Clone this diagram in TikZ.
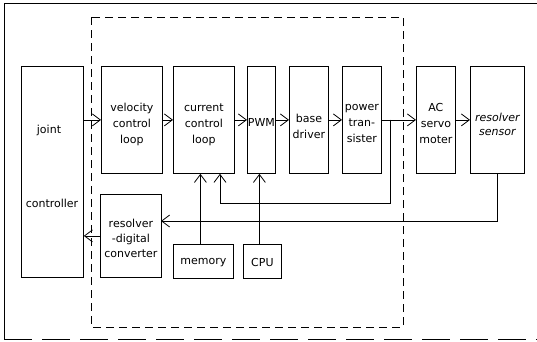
\documentclass[tikz,border=0pt]{standalone}
\usepackage{fontspec}
\setmainfont{DejaVu Sans}
\usetikzlibrary{arrows.meta}
\tikzset{
  blk/.style={draw, line width=0.8pt, inner sep=0pt, anchor=north west},
  txt/.style={inner sep=0pt, align=center, font=\fontsize{11}{16}\selectfont},
  arr/.style={line width=0.8pt, -{Straight Barb[length=8pt,width=12pt,line width=0.8pt]}},
  dashbox/.style={line width=0.9pt, dash pattern=on 8pt off 5pt},
}
\begin{document}
\begin{tikzpicture}[x=1pt,y=-1pt]
\useasboundingbox (0,0) rectangle (537,341);
% outer frame
\draw[line width=0.8pt] (537,3) -- (4,3) -- (4,339);
\draw[line width=0.8pt, dash pattern=on 28pt off 10pt] (4,339) -- (537,339);
% dashed enclosure
\draw[dashbox] (91,17) rectangle (403,327);
% blocks
\node[blk, minimum width=62pt, minimum height=211pt] (joint) at (21,66) {};
\node[blk, minimum width=61pt, minimum height=107pt] (vel) at (101,66) {};
\node[blk, minimum width=61pt, minimum height=107pt] (cur) at (173,66) {};
\node[blk, minimum width=28pt, minimum height=107pt] (pwm) at (247,66) {};
\node[blk, minimum width=39pt, minimum height=107pt] (base) at (289,66) {};
\node[blk, minimum width=39pt, minimum height=107pt] (pow) at (342,66) {};
\node[blk, minimum width=39pt, minimum height=107pt] (ac) at (416,66) {};
\node[blk, minimum width=54pt, minimum height=107pt] (rs) at (470,66) {};
\node[blk, minimum width=61pt, minimum height=83pt] (rdc) at (100,194) {};
\node[blk, minimum width=60pt, minimum height=34pt] (mem) at (173,244) {};
\node[blk, minimum width=38pt, minimum height=34pt] (cpu) at (243,244) {};
% texts
\node[txt] (jointt) at (49,130) {joint};
\node[txt] (ctrlt) at (52,203) {controller};
\node[txt] (velt) at ([yshift=-5pt]vel.center) {velocity\\control\\loop};
\node[txt] (curt) at ([yshift=-5pt]cur.center) {current\\control\\loop};
\node[txt] (pwmt) at ([yshift=-3pt]pwm.center) {PWM};
\node[txt] (baset) at ([yshift=-6pt]base.center) {base\\driver};
\node[txt] (powt) at ([yshift=-4pt]pow.center) {power\\tran-\\sister};
\node[txt] (act) at ([yshift=-4pt]ac.center) {AC\\servo\\moter};
\node[txt, font=\fontsize{11}{14}\selectfont\itshape] (rst) at ([yshift=-4pt]rs.center) {resolver\\sensor};
\node[txt, font=\fontsize{11}{15}\selectfont] (rdct) at ([yshift=-2.5pt]rdc.center) {resolver\\-digital\\converter};
\node[txt] (memt) at ([yshift=-1pt]mem.center) {memory};
\node[txt] (cput) at ([yshift=-1pt]cpu.center) {CPU};
% forward path
\draw[arr] (joint.east |- vel.west) -- (vel.west);
\draw[arr] (vel.east) -- (cur.west);
\draw[arr] (cur.east) -- (pwm.west);
\draw[arr] (pwm.east) -- (base.west);
\draw[arr] (base.east) -- (pow.west);
\draw[arr] (pow.east) -- (ac.west);
\draw[arr] (ac.east) -- (rs.west);
% current feedback
\coordinate (br) at (390,119.5);
\coordinate (f1) at (220,203);
\draw[arr] (br) |- (f1) -- (f1 |- cur.south);
% position feedback
\coordinate (rdcin) at (161,221);
\draw[arr] (rs.south) |- (rdcin);
\draw[arr] (rdc.west) -- (joint.east |- rdc.west);
% memory and CPU
\draw[arr] ([xshift=-3pt]mem.north) -- ([xshift=-3pt]mem.north |- cur.south);
\draw[arr] ([xshift=-3pt]cpu.north) -- ([xshift=-3pt]cpu.north |- pwm.south);
\end{tikzpicture}
\end{document}
